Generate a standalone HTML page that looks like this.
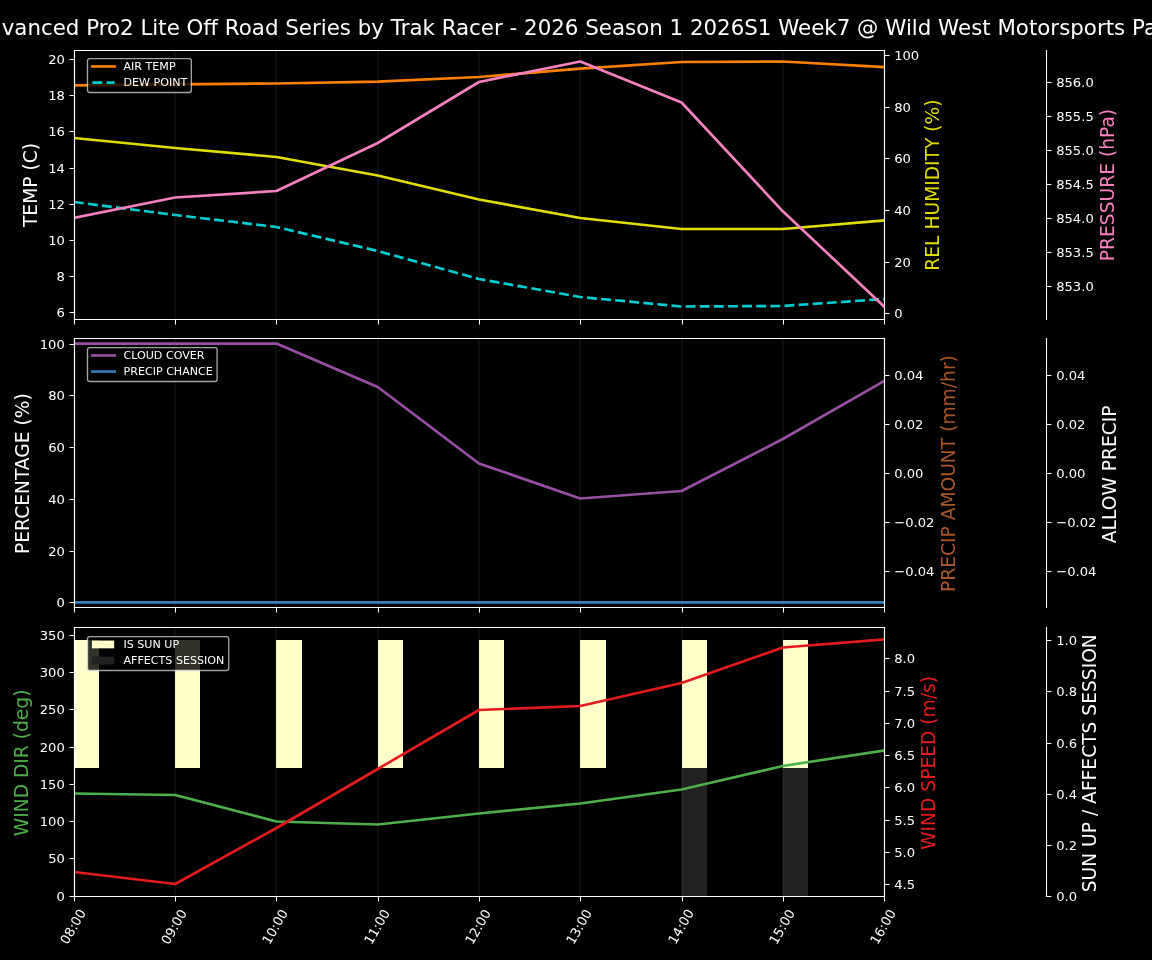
<!DOCTYPE html>
<html lang="en">
<head>
<meta charset="utf-8">
<title>Weather Forecast</title>
<style>
html,body{margin:0;padding:0;background:#000;}
body{width:1152px;height:960px;overflow:hidden;font-family:"DejaVu Sans","Liberation Sans",sans-serif;color:#fff;}
svg{display:block;}
</style>
</head>
<body>
<svg width="1152" height="960" viewBox="0 0 864 720">
<defs>
<style type="text/css">*{stroke-linejoin: round; stroke-linecap: butt}</style>
</defs>
<g id="figure_1">
<g id="patch_1">
<path d="M 0 720 L 864 720 L 864 0 L 0 0 z "/>
</g>
<g id="axes_1">
<g id="patch_2">
<path d="M 55.875 239.625 L 663.375 239.625 L 663.375 37.875 L 55.875 37.875 z "/>
</g>
<g id="matplotlib.axis_1">
<g id="xtick_1">
<g id="line2d_1">
<defs>
<path id="m2b34228c76" d="M 0 0 L 0 3.75 " style="stroke: #ffffff; stroke-width: 0.8"/>
</defs>
<g>
<use href="#m2b34228c76" x="55.875" y="239.625" style="fill: #ffffff; stroke: #ffffff; stroke-width: 0.8"/>
</g>
</g>
</g>
<g id="xtick_2">
<g id="line2d_2">
<g>
<use href="#m2b34228c76" x="131.625" y="239.625" style="fill: #ffffff; stroke: #ffffff; stroke-width: 0.8"/>
</g>
</g>
</g>
<g id="xtick_3">
<g id="line2d_3">
<g>
<use href="#m2b34228c76" x="207.375" y="239.625" style="fill: #ffffff; stroke: #ffffff; stroke-width: 0.8"/>
</g>
</g>
</g>
<g id="xtick_4">
<g id="line2d_4">
<g>
<use href="#m2b34228c76" x="283.875" y="239.625" style="fill: #ffffff; stroke: #ffffff; stroke-width: 0.8"/>
</g>
</g>
</g>
<g id="xtick_5">
<g id="line2d_5">
<g>
<use href="#m2b34228c76" x="359.625" y="239.625" style="fill: #ffffff; stroke: #ffffff; stroke-width: 0.8"/>
</g>
</g>
</g>
<g id="xtick_6">
<g id="line2d_6">
<g>
<use href="#m2b34228c76" x="435.375" y="239.625" style="fill: #ffffff; stroke: #ffffff; stroke-width: 0.8"/>
</g>
</g>
</g>
<g id="xtick_7">
<g id="line2d_7">
<g>
<use href="#m2b34228c76" x="511.875" y="239.625" style="fill: #ffffff; stroke: #ffffff; stroke-width: 0.8"/>
</g>
</g>
</g>
<g id="xtick_8">
<g id="line2d_8">
<g>
<use href="#m2b34228c76" x="587.625" y="239.625" style="fill: #ffffff; stroke: #ffffff; stroke-width: 0.8"/>
</g>
</g>
</g>
<g id="xtick_9">
<g id="line2d_9">
<g>
<use href="#m2b34228c76" x="663.375" y="239.625" style="fill: #ffffff; stroke: #ffffff; stroke-width: 0.8"/>
</g>
</g>
</g>
</g>
<g id="matplotlib.axis_2">
<g id="ytick_1">
<g id="line2d_10">
<defs>
<path id="mc63ed60ff4" d="M 0 0 L -3.75 0 " style="stroke: #ffffff; stroke-width: 0.8"/>
</defs>
<g>
<use href="#mc63ed60ff4" x="55.875" y="234.375" style="fill: #ffffff; stroke: #ffffff; stroke-width: 0.8"/>
</g>
</g>
<g id="text_1">
<text style="font-size: 9.85px; font-family: 'DejaVu Sans', 'Liberation Sans', sans-serif; text-anchor: end; fill: #ffffff" x="48.625" y="237.562">6</text>
</g>
</g>
<g id="ytick_2">
<g id="line2d_11">
<g>
<use href="#mc63ed60ff4" x="55.875" y="207.375" style="fill: #ffffff; stroke: #ffffff; stroke-width: 0.8"/>
</g>
</g>
<g id="text_2">
<text style="font-size: 9.85px; font-family: 'DejaVu Sans', 'Liberation Sans', sans-serif; text-anchor: end; fill: #ffffff" x="48.625" y="210.562">8</text>
</g>
</g>
<g id="ytick_3">
<g id="line2d_12">
<g>
<use href="#mc63ed60ff4" x="55.875" y="180.375" style="fill: #ffffff; stroke: #ffffff; stroke-width: 0.8"/>
</g>
</g>
<g id="text_3">
<text style="font-size: 9.85px; font-family: 'DejaVu Sans', 'Liberation Sans', sans-serif; text-anchor: end; fill: #ffffff" x="48.625" y="183.562">10</text>
</g>
</g>
<g id="ytick_4">
<g id="line2d_13">
<g>
<use href="#mc63ed60ff4" x="55.875" y="153.375" style="fill: #ffffff; stroke: #ffffff; stroke-width: 0.8"/>
</g>
</g>
<g id="text_4">
<text style="font-size: 9.85px; font-family: 'DejaVu Sans', 'Liberation Sans', sans-serif; text-anchor: end; fill: #ffffff" x="48.625" y="156.562">12</text>
</g>
</g>
<g id="ytick_5">
<g id="line2d_14">
<g>
<use href="#mc63ed60ff4" x="55.875" y="126.375" style="fill: #ffffff; stroke: #ffffff; stroke-width: 0.8"/>
</g>
</g>
<g id="text_5">
<text style="font-size: 9.85px; font-family: 'DejaVu Sans', 'Liberation Sans', sans-serif; text-anchor: end; fill: #ffffff" x="48.625" y="129.562">14</text>
</g>
</g>
<g id="ytick_6">
<g id="line2d_15">
<g>
<use href="#mc63ed60ff4" x="55.875" y="98.625" style="fill: #ffffff; stroke: #ffffff; stroke-width: 0.8"/>
</g>
</g>
<g id="text_6">
<text style="font-size: 9.85px; font-family: 'DejaVu Sans', 'Liberation Sans', sans-serif; text-anchor: end; fill: #ffffff" x="48.625" y="101.812">16</text>
</g>
</g>
<g id="ytick_7">
<g id="line2d_16">
<g>
<use href="#mc63ed60ff4" x="55.875" y="71.625" style="fill: #ffffff; stroke: #ffffff; stroke-width: 0.8"/>
</g>
</g>
<g id="text_7">
<text style="font-size: 9.85px; font-family: 'DejaVu Sans', 'Liberation Sans', sans-serif; text-anchor: end; fill: #ffffff" x="48.625" y="74.812">18</text>
</g>
</g>
<g id="ytick_8">
<g id="line2d_17">
<g>
<use href="#mc63ed60ff4" x="55.875" y="44.625" style="fill: #ffffff; stroke: #ffffff; stroke-width: 0.8"/>
</g>
</g>
<g id="text_8">
<text style="font-size: 9.85px; font-family: 'DejaVu Sans', 'Liberation Sans', sans-serif; text-anchor: end; fill: #ffffff" x="48.625" y="47.812">20</text>
</g>
</g>
<g id="text_9">
<text style="font-size: 14px; font-family: 'DejaVu Sans', 'Liberation Sans', sans-serif; text-anchor: middle; fill: #ffffff" x="28.106" y="138.75" transform="rotate(-90 28.106 138.75)">TEMP (C)</text>
</g>
</g>
<g id="line2d_18">
<path d="M 55.425 63.975 L 131.381 63.3 L 207.337 62.625 L 283.293 61.275 L 359.25 57.75 L 435.206 51.45 L 511.162 46.5 L 587.118 46.125 L 663.075 50.25 " clip-path="url(#pbbd23e26a2)" style="fill: none; stroke: #ff7f00; stroke-width: 2; stroke-linecap: square"/>
</g>
<g id="line2d_19">
<path d="M 55.425 151.5 L 131.381 161.25 L 207.337 170.25 L 283.293 188.25 L 359.25 209.25 L 435.206 222.75 L 511.162 229.875 L 587.118 229.5 L 663.075 224.25 " clip-path="url(#pbbd23e26a2)" style="fill: none; stroke-dasharray: 7.4,3.2; stroke-dashoffset: 0; stroke: #00ced1; stroke-width: 2"/>
</g>
<g id="line2d_20">
<path d="M 55.5 239.625 L 55.5 37.875 " clip-path="url(#pbbd23e26a2)" style="fill: none; stroke: #808080; stroke-opacity: 0.1; stroke-width: 1.5; stroke-linecap: square"/>
</g>
<g id="line2d_21">
<path d="M 131.25 239.625 L 131.25 37.875 " clip-path="url(#pbbd23e26a2)" style="fill: none; stroke: #808080; stroke-opacity: 0.1; stroke-width: 1.5; stroke-linecap: square"/>
</g>
<g id="line2d_22">
<path d="M 207 239.625 L 207 37.875 " clip-path="url(#pbbd23e26a2)" style="fill: none; stroke: #808080; stroke-opacity: 0.1; stroke-width: 1.5; stroke-linecap: square"/>
</g>
<g id="line2d_23">
<path d="M 283.5 239.625 L 283.5 37.875 " clip-path="url(#pbbd23e26a2)" style="fill: none; stroke: #808080; stroke-opacity: 0.1; stroke-width: 1.5; stroke-linecap: square"/>
</g>
<g id="line2d_24">
<path d="M 359.25 239.625 L 359.25 37.875 " clip-path="url(#pbbd23e26a2)" style="fill: none; stroke: #808080; stroke-opacity: 0.1; stroke-width: 1.5; stroke-linecap: square"/>
</g>
<g id="line2d_25">
<path d="M 435 239.625 L 435 37.875 " clip-path="url(#pbbd23e26a2)" style="fill: none; stroke: #808080; stroke-opacity: 0.1; stroke-width: 1.5; stroke-linecap: square"/>
</g>
<g id="line2d_26">
<path d="M 511.5 239.625 L 511.5 37.875 " clip-path="url(#pbbd23e26a2)" style="fill: none; stroke: #808080; stroke-opacity: 0.1; stroke-width: 1.5; stroke-linecap: square"/>
</g>
<g id="line2d_27">
<path d="M 587.25 239.625 L 587.25 37.875 " clip-path="url(#pbbd23e26a2)" style="fill: none; stroke: #808080; stroke-opacity: 0.1; stroke-width: 1.5; stroke-linecap: square"/>
</g>
<g id="line2d_28">
<path d="M 663 239.625 L 663 37.875 " clip-path="url(#pbbd23e26a2)" style="fill: none; stroke: #808080; stroke-opacity: 0.1; stroke-width: 1.5; stroke-linecap: square"/>
</g>
<g id="patch_3">
<path d="M 55.875 239.625 L 55.875 37.875 " style="fill: none; stroke: #ffffff; stroke-width: 0.8; stroke-linejoin: miter; stroke-linecap: square"/>
</g>
<g id="patch_4">
<path d="M 663.375 239.625 L 663.375 37.875 " style="fill: none; stroke: #ffffff; stroke-width: 0.8; stroke-linejoin: miter; stroke-linecap: square"/>
</g>
<g id="patch_5">
<path d="M 55.875 239.625 L 663.375 239.625 " style="fill: none; stroke: #ffffff; stroke-width: 0.8; stroke-linejoin: miter; stroke-linecap: square"/>
</g>
<g id="patch_6">
<path d="M 55.875 37.875 L 663.375 37.875 " style="fill: none; stroke: #ffffff; stroke-width: 0.8; stroke-linejoin: miter; stroke-linecap: square"/>
</g>
</g>
<g id="axes_2">
<g id="matplotlib.axis_3">
<g id="ytick_9">
<g id="line2d_29">
<defs>
<path id="m5f12abc938" d="M 0 0 L 3.75 0 " style="stroke: #ffffff; stroke-width: 0.8"/>
</defs>
<g>
<use href="#m5f12abc938" x="663.375" y="235.125" style="fill: #ffffff; stroke: #ffffff; stroke-width: 0.8"/>
</g>
</g>
<g id="text_10">
<text style="font-size: 9.85px; font-family: 'DejaVu Sans', 'Liberation Sans', sans-serif; text-anchor: start; fill: #ffffff" x="670.625" y="238.312">0</text>
</g>
</g>
<g id="ytick_10">
<g id="line2d_30">
<g>
<use href="#m5f12abc938" x="663.375" y="196.875" style="fill: #ffffff; stroke: #ffffff; stroke-width: 0.8"/>
</g>
</g>
<g id="text_11">
<text style="font-size: 9.85px; font-family: 'DejaVu Sans', 'Liberation Sans', sans-serif; text-anchor: start; fill: #ffffff" x="670.625" y="200.062">20</text>
</g>
</g>
<g id="ytick_11">
<g id="line2d_31">
<g>
<use href="#m5f12abc938" x="663.375" y="157.875" style="fill: #ffffff; stroke: #ffffff; stroke-width: 0.8"/>
</g>
</g>
<g id="text_12">
<text style="font-size: 9.85px; font-family: 'DejaVu Sans', 'Liberation Sans', sans-serif; text-anchor: start; fill: #ffffff" x="670.625" y="161.062">40</text>
</g>
</g>
<g id="ytick_12">
<g id="line2d_32">
<g>
<use href="#m5f12abc938" x="663.375" y="118.875" style="fill: #ffffff; stroke: #ffffff; stroke-width: 0.8"/>
</g>
</g>
<g id="text_13">
<text style="font-size: 9.85px; font-family: 'DejaVu Sans', 'Liberation Sans', sans-serif; text-anchor: start; fill: #ffffff" x="670.625" y="122.062">60</text>
</g>
</g>
<g id="ytick_13">
<g id="line2d_33">
<g>
<use href="#m5f12abc938" x="663.375" y="80.625" style="fill: #ffffff; stroke: #ffffff; stroke-width: 0.8"/>
</g>
</g>
<g id="text_14">
<text style="font-size: 9.85px; font-family: 'DejaVu Sans', 'Liberation Sans', sans-serif; text-anchor: start; fill: #ffffff" x="670.625" y="83.812">80</text>
</g>
</g>
<g id="ytick_14">
<g id="line2d_34">
<g>
<use href="#m5f12abc938" x="663.375" y="41.625" style="fill: #ffffff; stroke: #ffffff; stroke-width: 0.8"/>
</g>
</g>
<g id="text_15">
<text style="font-size: 9.85px; font-family: 'DejaVu Sans', 'Liberation Sans', sans-serif; text-anchor: start; fill: #ffffff" x="670.625" y="44.812">100</text>
</g>
</g>
<g id="text_16">
<text style="font-size: 14px; font-family: 'DejaVu Sans', 'Liberation Sans', sans-serif; text-anchor: middle; fill: #dede00" x="704.325" y="138.75" transform="rotate(-90 704.325 138.75)">REL HUMIDITY (%)</text>
</g>
</g>
<g id="line2d_35">
<path d="M 55.425 103.5 L 131.381 111 L 207.337 117.75 L 283.293 131.625 L 359.25 149.625 L 435.206 163.5 L 511.162 171.75 L 587.118 171.75 L 663.075 165.375 " clip-path="url(#p2cc033f85c)" style="fill: none; stroke: #dede00; stroke-width: 2; stroke-linecap: square"/>
</g>
<g id="patch_7">
<path d="M 55.875 239.625 L 55.875 37.875 " style="fill: none; stroke: #ffffff; stroke-width: 0.8; stroke-linejoin: miter; stroke-linecap: square"/>
</g>
<g id="patch_8">
<path d="M 663.375 239.625 L 663.375 37.875 " style="fill: none; stroke: #ffffff; stroke-width: 0.8; stroke-linejoin: miter; stroke-linecap: square"/>
</g>
<g id="patch_9">
<path d="M 55.875 239.625 L 663.375 239.625 " style="fill: none; stroke: #ffffff; stroke-width: 0.8; stroke-linejoin: miter; stroke-linecap: square"/>
</g>
<g id="patch_10">
<path d="M 55.875 37.875 L 663.375 37.875 " style="fill: none; stroke: #ffffff; stroke-width: 0.8; stroke-linejoin: miter; stroke-linecap: square"/>
</g>
</g>
<g id="axes_3">
<g id="matplotlib.axis_4">
<g id="ytick_15">
<g id="line2d_36">
<g>
<use href="#m5f12abc938" x="784.875" y="214.875" style="fill: #ffffff; stroke: #ffffff; stroke-width: 0.8"/>
</g>
</g>
<g id="text_17">
<text style="font-size: 9.85px; font-family: 'DejaVu Sans', 'Liberation Sans', sans-serif; text-anchor: start; fill: #ffffff" x="792.125" y="218.062">853.0</text>
</g>
</g>
<g id="ytick_16">
<g id="line2d_37">
<g>
<use href="#m5f12abc938" x="784.875" y="189.375" style="fill: #ffffff; stroke: #ffffff; stroke-width: 0.8"/>
</g>
</g>
<g id="text_18">
<text style="font-size: 9.85px; font-family: 'DejaVu Sans', 'Liberation Sans', sans-serif; text-anchor: start; fill: #ffffff" x="792.125" y="192.562">853.5</text>
</g>
</g>
<g id="ytick_17">
<g id="line2d_38">
<g>
<use href="#m5f12abc938" x="784.875" y="163.875" style="fill: #ffffff; stroke: #ffffff; stroke-width: 0.8"/>
</g>
</g>
<g id="text_19">
<text style="font-size: 9.85px; font-family: 'DejaVu Sans', 'Liberation Sans', sans-serif; text-anchor: start; fill: #ffffff" x="792.125" y="167.062">854.0</text>
</g>
</g>
<g id="ytick_18">
<g id="line2d_39">
<g>
<use href="#m5f12abc938" x="784.875" y="138.375" style="fill: #ffffff; stroke: #ffffff; stroke-width: 0.8"/>
</g>
</g>
<g id="text_20">
<text style="font-size: 9.85px; font-family: 'DejaVu Sans', 'Liberation Sans', sans-serif; text-anchor: start; fill: #ffffff" x="792.125" y="141.562">854.5</text>
</g>
</g>
<g id="ytick_19">
<g id="line2d_40">
<g>
<use href="#m5f12abc938" x="784.875" y="112.875" style="fill: #ffffff; stroke: #ffffff; stroke-width: 0.8"/>
</g>
</g>
<g id="text_21">
<text style="font-size: 9.85px; font-family: 'DejaVu Sans', 'Liberation Sans', sans-serif; text-anchor: start; fill: #ffffff" x="792.125" y="116.062">855.0</text>
</g>
</g>
<g id="ytick_20">
<g id="line2d_41">
<g>
<use href="#m5f12abc938" x="784.875" y="87.375" style="fill: #ffffff; stroke: #ffffff; stroke-width: 0.8"/>
</g>
</g>
<g id="text_22">
<text style="font-size: 9.85px; font-family: 'DejaVu Sans', 'Liberation Sans', sans-serif; text-anchor: start; fill: #ffffff" x="792.125" y="90.562">855.5</text>
</g>
</g>
<g id="ytick_21">
<g id="line2d_42">
<g>
<use href="#m5f12abc938" x="784.875" y="61.875" style="fill: #ffffff; stroke: #ffffff; stroke-width: 0.8"/>
</g>
</g>
<g id="text_23">
<text style="font-size: 9.85px; font-family: 'DejaVu Sans', 'Liberation Sans', sans-serif; text-anchor: start; fill: #ffffff" x="792.125" y="65.062">856.0</text>
</g>
</g>
<g id="text_24">
<text style="font-size: 14px; font-family: 'DejaVu Sans', 'Liberation Sans', sans-serif; text-anchor: middle; fill: #f781bf" x="835.293" y="138.75" transform="rotate(-90 835.293 138.75)">PRESSURE (hPa)</text>
</g>
</g>
<g id="line2d_43">
<path d="M 55.425 163.5 L 131.381 148.125 L 207.337 143.25 L 283.293 107.25 L 359.25 61.5 L 435.206 46.125 L 511.162 76.875 L 587.118 158.475 L 663.075 229.875 " clip-path="url(#p2cc033f85c)" style="fill: none; stroke: #f781bf; stroke-width: 2; stroke-linecap: square"/>
</g>
<g id="patch_11">
<path d="M 55.875 239.625 L 55.875 37.875 " style="fill: none; stroke: #ffffff; stroke-width: 0.8; stroke-linejoin: miter; stroke-linecap: square"/>
</g>
<g id="patch_12">
<path d="M 784.875 239.625 L 784.875 37.875 " style="fill: none; stroke: #ffffff; stroke-width: 0.8; stroke-linejoin: miter; stroke-linecap: square"/>
</g>
<g id="patch_13">
<path d="M 55.875 239.625 L 663.375 239.625 " style="fill: none; stroke: #ffffff; stroke-width: 0.8; stroke-linejoin: miter; stroke-linecap: square"/>
</g>
<g id="patch_14">
<path d="M 55.875 37.875 L 663.375 37.875 " style="fill: none; stroke: #ffffff; stroke-width: 0.8; stroke-linejoin: miter; stroke-linecap: square"/>
</g>
</g>
<g id="axes_4">
<g id="patch_15">
<path d="M 55.875 455.625 L 663.375 455.625 L 663.375 253.875 L 55.875 253.875 z "/>
</g>
<g id="matplotlib.axis_5">
<g id="xtick_10">
<g id="line2d_44">
<g>
<use href="#m2b34228c76" x="55.875" y="455.625" style="fill: #ffffff; stroke: #ffffff; stroke-width: 0.8"/>
</g>
</g>
</g>
<g id="xtick_11">
<g id="line2d_45">
<g>
<use href="#m2b34228c76" x="131.625" y="455.625" style="fill: #ffffff; stroke: #ffffff; stroke-width: 0.8"/>
</g>
</g>
</g>
<g id="xtick_12">
<g id="line2d_46">
<g>
<use href="#m2b34228c76" x="207.375" y="455.625" style="fill: #ffffff; stroke: #ffffff; stroke-width: 0.8"/>
</g>
</g>
</g>
<g id="xtick_13">
<g id="line2d_47">
<g>
<use href="#m2b34228c76" x="283.875" y="455.625" style="fill: #ffffff; stroke: #ffffff; stroke-width: 0.8"/>
</g>
</g>
</g>
<g id="xtick_14">
<g id="line2d_48">
<g>
<use href="#m2b34228c76" x="359.625" y="455.625" style="fill: #ffffff; stroke: #ffffff; stroke-width: 0.8"/>
</g>
</g>
</g>
<g id="xtick_15">
<g id="line2d_49">
<g>
<use href="#m2b34228c76" x="435.375" y="455.625" style="fill: #ffffff; stroke: #ffffff; stroke-width: 0.8"/>
</g>
</g>
</g>
<g id="xtick_16">
<g id="line2d_50">
<g>
<use href="#m2b34228c76" x="511.875" y="455.625" style="fill: #ffffff; stroke: #ffffff; stroke-width: 0.8"/>
</g>
</g>
</g>
<g id="xtick_17">
<g id="line2d_51">
<g>
<use href="#m2b34228c76" x="587.625" y="455.625" style="fill: #ffffff; stroke: #ffffff; stroke-width: 0.8"/>
</g>
</g>
</g>
<g id="xtick_18">
<g id="line2d_52">
<g>
<use href="#m2b34228c76" x="663.375" y="455.625" style="fill: #ffffff; stroke: #ffffff; stroke-width: 0.8"/>
</g>
</g>
</g>
</g>
<g id="matplotlib.axis_6">
<g id="ytick_22">
<g id="line2d_53">
<g>
<use href="#mc63ed60ff4" x="55.875" y="451.875" style="fill: #ffffff; stroke: #ffffff; stroke-width: 0.8"/>
</g>
</g>
<g id="text_25">
<text style="font-size: 9.85px; font-family: 'DejaVu Sans', 'Liberation Sans', sans-serif; text-anchor: end; fill: #ffffff" x="48.625" y="455.062">0</text>
</g>
</g>
<g id="ytick_23">
<g id="line2d_54">
<g>
<use href="#mc63ed60ff4" x="55.875" y="413.625" style="fill: #ffffff; stroke: #ffffff; stroke-width: 0.8"/>
</g>
</g>
<g id="text_26">
<text style="font-size: 9.85px; font-family: 'DejaVu Sans', 'Liberation Sans', sans-serif; text-anchor: end; fill: #ffffff" x="48.625" y="416.812">20</text>
</g>
</g>
<g id="ytick_24">
<g id="line2d_55">
<g>
<use href="#mc63ed60ff4" x="55.875" y="374.625" style="fill: #ffffff; stroke: #ffffff; stroke-width: 0.8"/>
</g>
</g>
<g id="text_27">
<text style="font-size: 9.85px; font-family: 'DejaVu Sans', 'Liberation Sans', sans-serif; text-anchor: end; fill: #ffffff" x="48.625" y="377.812">40</text>
</g>
</g>
<g id="ytick_25">
<g id="line2d_56">
<g>
<use href="#mc63ed60ff4" x="55.875" y="335.625" style="fill: #ffffff; stroke: #ffffff; stroke-width: 0.8"/>
</g>
</g>
<g id="text_28">
<text style="font-size: 9.85px; font-family: 'DejaVu Sans', 'Liberation Sans', sans-serif; text-anchor: end; fill: #ffffff" x="48.625" y="338.812">60</text>
</g>
</g>
<g id="ytick_26">
<g id="line2d_57">
<g>
<use href="#mc63ed60ff4" x="55.875" y="296.625" style="fill: #ffffff; stroke: #ffffff; stroke-width: 0.8"/>
</g>
</g>
<g id="text_29">
<text style="font-size: 9.85px; font-family: 'DejaVu Sans', 'Liberation Sans', sans-serif; text-anchor: end; fill: #ffffff" x="48.625" y="299.812">80</text>
</g>
</g>
<g id="ytick_27">
<g id="line2d_58">
<g>
<use href="#mc63ed60ff4" x="55.875" y="258.375" style="fill: #ffffff; stroke: #ffffff; stroke-width: 0.8"/>
</g>
</g>
<g id="text_30">
<text style="font-size: 9.85px; font-family: 'DejaVu Sans', 'Liberation Sans', sans-serif; text-anchor: end; fill: #ffffff" x="48.625" y="261.562">100</text>
</g>
</g>
<g id="text_31">
<text style="font-size: 14px; font-family: 'DejaVu Sans', 'Liberation Sans', sans-serif; text-anchor: middle; fill: #ffffff" x="21.825" y="355.2" transform="rotate(-90 21.825 355.2)">PERCENTAGE (%)</text>
</g>
</g>
<g id="line2d_59">
<path d="M 55.425 257.7 L 131.381 257.7 L 207.337 257.7 L 283.293 290.25 L 359.25 347.625 L 435.206 373.875 L 511.162 368.25 L 587.118 329.25 L 663.075 285.75 " clip-path="url(#paed9b21884)" style="fill: none; stroke: #984ea3; stroke-width: 2; stroke-linecap: square"/>
</g>
<g id="line2d_60">
<path d="M 55.425 451.837 L 131.381 451.837 L 207.337 451.837 L 283.293 451.837 L 359.25 451.837 L 435.206 451.837 L 511.162 451.837 L 587.118 451.837 L 663.075 451.837 " clip-path="url(#paed9b21884)" style="fill: none; stroke: #377eb8; stroke-width: 2; stroke-linecap: square"/>
</g>
<g id="line2d_61">
<path d="M 55.5 455.625 L 55.5 253.875 " clip-path="url(#paed9b21884)" style="fill: none; stroke: #808080; stroke-opacity: 0.1; stroke-width: 1.5; stroke-linecap: square"/>
</g>
<g id="line2d_62">
<path d="M 131.25 455.625 L 131.25 253.875 " clip-path="url(#paed9b21884)" style="fill: none; stroke: #808080; stroke-opacity: 0.1; stroke-width: 1.5; stroke-linecap: square"/>
</g>
<g id="line2d_63">
<path d="M 207 455.625 L 207 253.875 " clip-path="url(#paed9b21884)" style="fill: none; stroke: #808080; stroke-opacity: 0.1; stroke-width: 1.5; stroke-linecap: square"/>
</g>
<g id="line2d_64">
<path d="M 283.5 455.625 L 283.5 253.875 " clip-path="url(#paed9b21884)" style="fill: none; stroke: #808080; stroke-opacity: 0.1; stroke-width: 1.5; stroke-linecap: square"/>
</g>
<g id="line2d_65">
<path d="M 359.25 455.625 L 359.25 253.875 " clip-path="url(#paed9b21884)" style="fill: none; stroke: #808080; stroke-opacity: 0.1; stroke-width: 1.5; stroke-linecap: square"/>
</g>
<g id="line2d_66">
<path d="M 435 455.625 L 435 253.875 " clip-path="url(#paed9b21884)" style="fill: none; stroke: #808080; stroke-opacity: 0.1; stroke-width: 1.5; stroke-linecap: square"/>
</g>
<g id="line2d_67">
<path d="M 511.5 455.625 L 511.5 253.875 " clip-path="url(#paed9b21884)" style="fill: none; stroke: #808080; stroke-opacity: 0.1; stroke-width: 1.5; stroke-linecap: square"/>
</g>
<g id="line2d_68">
<path d="M 587.25 455.625 L 587.25 253.875 " clip-path="url(#paed9b21884)" style="fill: none; stroke: #808080; stroke-opacity: 0.1; stroke-width: 1.5; stroke-linecap: square"/>
</g>
<g id="line2d_69">
<path d="M 663 455.625 L 663 253.875 " clip-path="url(#paed9b21884)" style="fill: none; stroke: #808080; stroke-opacity: 0.1; stroke-width: 1.5; stroke-linecap: square"/>
</g>
<g id="patch_16">
<path d="M 55.875 455.625 L 55.875 253.875 " style="fill: none; stroke: #ffffff; stroke-width: 0.8; stroke-linejoin: miter; stroke-linecap: square"/>
</g>
<g id="patch_17">
<path d="M 663.375 455.625 L 663.375 253.875 " style="fill: none; stroke: #ffffff; stroke-width: 0.8; stroke-linejoin: miter; stroke-linecap: square"/>
</g>
<g id="patch_18">
<path d="M 55.875 455.625 L 663.375 455.625 " style="fill: none; stroke: #ffffff; stroke-width: 0.8; stroke-linejoin: miter; stroke-linecap: square"/>
</g>
<g id="patch_19">
<path d="M 55.875 253.875 L 663.375 253.875 " style="fill: none; stroke: #ffffff; stroke-width: 0.8; stroke-linejoin: miter; stroke-linecap: square"/>
</g>
</g>
<g id="axes_5">
<g id="matplotlib.axis_7">
<g id="ytick_28">
<g id="line2d_70">
<g>
<use href="#m5f12abc938" x="663.375" y="428.625" style="fill: #ffffff; stroke: #ffffff; stroke-width: 0.8"/>
</g>
</g>
<g id="text_32">
<text style="font-size: 9.85px; font-family: 'DejaVu Sans', 'Liberation Sans', sans-serif; text-anchor: start; fill: #ffffff" x="670.625" y="431.812">−0.04</text>
</g>
</g>
<g id="ytick_29">
<g id="line2d_71">
<g>
<use href="#m5f12abc938" x="663.375" y="391.875" style="fill: #ffffff; stroke: #ffffff; stroke-width: 0.8"/>
</g>
</g>
<g id="text_33">
<text style="font-size: 9.85px; font-family: 'DejaVu Sans', 'Liberation Sans', sans-serif; text-anchor: start; fill: #ffffff" x="670.625" y="395.062">−0.02</text>
</g>
</g>
<g id="ytick_30">
<g id="line2d_72">
<g>
<use href="#m5f12abc938" x="663.375" y="355.125" style="fill: #ffffff; stroke: #ffffff; stroke-width: 0.8"/>
</g>
</g>
<g id="text_34">
<text style="font-size: 9.85px; font-family: 'DejaVu Sans', 'Liberation Sans', sans-serif; text-anchor: start; fill: #ffffff" x="670.625" y="358.312">0.00</text>
</g>
</g>
<g id="ytick_31">
<g id="line2d_73">
<g>
<use href="#m5f12abc938" x="663.375" y="318.375" style="fill: #ffffff; stroke: #ffffff; stroke-width: 0.8"/>
</g>
</g>
<g id="text_35">
<text style="font-size: 9.85px; font-family: 'DejaVu Sans', 'Liberation Sans', sans-serif; text-anchor: start; fill: #ffffff" x="670.625" y="321.562">0.02</text>
</g>
</g>
<g id="ytick_32">
<g id="line2d_74">
<g>
<use href="#m5f12abc938" x="663.375" y="281.625" style="fill: #ffffff; stroke: #ffffff; stroke-width: 0.8"/>
</g>
</g>
<g id="text_36">
<text style="font-size: 9.85px; font-family: 'DejaVu Sans', 'Liberation Sans', sans-serif; text-anchor: start; fill: #ffffff" x="670.625" y="284.812">0.04</text>
</g>
</g>
<g id="text_37">
<text style="font-size: 14px; font-family: 'DejaVu Sans', 'Liberation Sans', sans-serif; text-anchor: middle; fill: #a65628" x="716.043" y="355.2" transform="rotate(-90 716.043 355.2)">PRECIP AMOUNT (mm/hr)</text>
</g>
</g>
<g id="patch_20">
<path d="M 55.875 455.625 L 55.875 253.875 " style="fill: none; stroke: #ffffff; stroke-width: 0.8; stroke-linejoin: miter; stroke-linecap: square"/>
</g>
<g id="patch_21">
<path d="M 663.375 455.625 L 663.375 253.875 " style="fill: none; stroke: #ffffff; stroke-width: 0.8; stroke-linejoin: miter; stroke-linecap: square"/>
</g>
<g id="patch_22">
<path d="M 55.875 455.625 L 663.375 455.625 " style="fill: none; stroke: #ffffff; stroke-width: 0.8; stroke-linejoin: miter; stroke-linecap: square"/>
</g>
<g id="patch_23">
<path d="M 55.875 253.875 L 663.375 253.875 " style="fill: none; stroke: #ffffff; stroke-width: 0.8; stroke-linejoin: miter; stroke-linecap: square"/>
</g>
</g>
<g id="axes_6">
<g id="matplotlib.axis_8">
<g id="ytick_33">
<g id="line2d_75">
<g>
<use href="#m5f12abc938" x="784.875" y="428.625" style="fill: #ffffff; stroke: #ffffff; stroke-width: 0.8"/>
</g>
</g>
<g id="text_38">
<text style="font-size: 9.85px; font-family: 'DejaVu Sans', 'Liberation Sans', sans-serif; text-anchor: start; fill: #ffffff" x="792.125" y="431.812">−0.04</text>
</g>
</g>
<g id="ytick_34">
<g id="line2d_76">
<g>
<use href="#m5f12abc938" x="784.875" y="391.875" style="fill: #ffffff; stroke: #ffffff; stroke-width: 0.8"/>
</g>
</g>
<g id="text_39">
<text style="font-size: 9.85px; font-family: 'DejaVu Sans', 'Liberation Sans', sans-serif; text-anchor: start; fill: #ffffff" x="792.125" y="395.062">−0.02</text>
</g>
</g>
<g id="ytick_35">
<g id="line2d_77">
<g>
<use href="#m5f12abc938" x="784.875" y="355.125" style="fill: #ffffff; stroke: #ffffff; stroke-width: 0.8"/>
</g>
</g>
<g id="text_40">
<text style="font-size: 9.85px; font-family: 'DejaVu Sans', 'Liberation Sans', sans-serif; text-anchor: start; fill: #ffffff" x="792.125" y="358.312">0.00</text>
</g>
</g>
<g id="ytick_36">
<g id="line2d_78">
<g>
<use href="#m5f12abc938" x="784.875" y="318.375" style="fill: #ffffff; stroke: #ffffff; stroke-width: 0.8"/>
</g>
</g>
<g id="text_41">
<text style="font-size: 9.85px; font-family: 'DejaVu Sans', 'Liberation Sans', sans-serif; text-anchor: start; fill: #ffffff" x="792.125" y="321.562">0.02</text>
</g>
</g>
<g id="ytick_37">
<g id="line2d_79">
<g>
<use href="#m5f12abc938" x="784.875" y="281.625" style="fill: #ffffff; stroke: #ffffff; stroke-width: 0.8"/>
</g>
</g>
<g id="text_42">
<text style="font-size: 9.85px; font-family: 'DejaVu Sans', 'Liberation Sans', sans-serif; text-anchor: start; fill: #ffffff" x="792.125" y="284.812">0.04</text>
</g>
</g>
<g id="text_43">
<text style="font-size: 14px; font-family: 'DejaVu Sans', 'Liberation Sans', sans-serif; text-anchor: middle; fill: #ffffff" x="836.718" y="355.725" transform="rotate(-90 836.718 355.725)">ALLOW PRECIP</text>
</g>
</g>
<g id="patch_24">
<path d="M 55.875 455.625 L 55.875 253.875 " style="fill: none; stroke: #ffffff; stroke-width: 0.8; stroke-linejoin: miter; stroke-linecap: square"/>
</g>
<g id="patch_25">
<path d="M 784.875 455.625 L 784.875 253.875 " style="fill: none; stroke: #ffffff; stroke-width: 0.8; stroke-linejoin: miter; stroke-linecap: square"/>
</g>
<g id="patch_26">
<path d="M 55.875 455.625 L 663.375 455.625 " style="fill: none; stroke: #ffffff; stroke-width: 0.8; stroke-linejoin: miter; stroke-linecap: square"/>
</g>
<g id="patch_27">
<path d="M 55.875 253.875 L 663.375 253.875 " style="fill: none; stroke: #ffffff; stroke-width: 0.8; stroke-linejoin: miter; stroke-linecap: square"/>
</g>
</g>
<g id="axes_7">
<g id="patch_28">
<path d="M 55.5 576 L 74.25 576 L 74.25 480 L 55.5 480 z " clip-path="url(#pfb2f7421c6)" style="fill: #ffffcc"/>
</g>
<g id="patch_29">
<path d="M 131.25 576 L 150 576 L 150 480 L 131.25 480 z " clip-path="url(#pfb2f7421c6)" style="fill: #ffffcc"/>
</g>
<g id="patch_30">
<path d="M 207 576 L 226.5 576 L 226.5 480 L 207 480 z " clip-path="url(#pfb2f7421c6)" style="fill: #ffffcc"/>
</g>
<g id="patch_31">
<path d="M 283.5 576 L 302.25 576 L 302.25 480 L 283.5 480 z " clip-path="url(#pfb2f7421c6)" style="fill: #ffffcc"/>
</g>
<g id="patch_32">
<path d="M 359.25 576 L 378 576 L 378 480 L 359.25 480 z " clip-path="url(#pfb2f7421c6)" style="fill: #ffffcc"/>
</g>
<g id="patch_33">
<path d="M 435 576 L 454.5 576 L 454.5 480 L 435 480 z " clip-path="url(#pfb2f7421c6)" style="fill: #ffffcc"/>
</g>
<g id="patch_34">
<path d="M 511.5 576 L 530.25 576 L 530.25 480 L 511.5 480 z " clip-path="url(#pfb2f7421c6)" style="fill: #ffffcc"/>
</g>
<g id="patch_35">
<path d="M 587.25 576 L 606 576 L 606 480 L 587.25 480 z " clip-path="url(#pfb2f7421c6)" style="fill: #ffffcc"/>
</g>
<g id="patch_36">
<path d="M 663 576 L 681.75 576 L 681.75 480 L 663 480 z " clip-path="url(#pfb2f7421c6)" style="fill: #ffffcc"/>
</g>
<g id="patch_37">
<path d="M 511.5 672 L 530.25 672 L 530.25 576 L 511.5 576 z " clip-path="url(#pfb2f7421c6)" style="fill: #222222"/>
</g>
<g id="patch_38">
<path d="M 587.25 672 L 606 672 L 606 576 L 587.25 576 z " clip-path="url(#pfb2f7421c6)" style="fill: #222222"/>
</g>
<g id="matplotlib.axis_9">
<g id="ytick_38">
<g id="line2d_80">
<g>
<use href="#m5f12abc938" x="784.875" y="672.375" style="fill: #ffffff; stroke: #ffffff; stroke-width: 0.8"/>
</g>
</g>
<g id="text_44">
<text style="font-size: 9.85px; font-family: 'DejaVu Sans', 'Liberation Sans', sans-serif; text-anchor: start; fill: #ffffff" x="792.125" y="675.562">0.0</text>
</g>
</g>
<g id="ytick_39">
<g id="line2d_81">
<g>
<use href="#m5f12abc938" x="784.875" y="634.125" style="fill: #ffffff; stroke: #ffffff; stroke-width: 0.8"/>
</g>
</g>
<g id="text_45">
<text style="font-size: 9.85px; font-family: 'DejaVu Sans', 'Liberation Sans', sans-serif; text-anchor: start; fill: #ffffff" x="792.125" y="637.312">0.2</text>
</g>
</g>
<g id="ytick_40">
<g id="line2d_82">
<g>
<use href="#m5f12abc938" x="784.875" y="595.875" style="fill: #ffffff; stroke: #ffffff; stroke-width: 0.8"/>
</g>
</g>
<g id="text_46">
<text style="font-size: 9.85px; font-family: 'DejaVu Sans', 'Liberation Sans', sans-serif; text-anchor: start; fill: #ffffff" x="792.125" y="599.062">0.4</text>
</g>
</g>
<g id="ytick_41">
<g id="line2d_83">
<g>
<use href="#m5f12abc938" x="784.875" y="557.625" style="fill: #ffffff; stroke: #ffffff; stroke-width: 0.8"/>
</g>
</g>
<g id="text_47">
<text style="font-size: 9.85px; font-family: 'DejaVu Sans', 'Liberation Sans', sans-serif; text-anchor: start; fill: #ffffff" x="792.125" y="560.812">0.6</text>
</g>
</g>
<g id="ytick_42">
<g id="line2d_84">
<g>
<use href="#m5f12abc938" x="784.875" y="518.625" style="fill: #ffffff; stroke: #ffffff; stroke-width: 0.8"/>
</g>
</g>
<g id="text_48">
<text style="font-size: 9.85px; font-family: 'DejaVu Sans', 'Liberation Sans', sans-serif; text-anchor: start; fill: #ffffff" x="792.125" y="521.812">0.8</text>
</g>
</g>
<g id="ytick_43">
<g id="line2d_85">
<g>
<use href="#m5f12abc938" x="784.875" y="480.375" style="fill: #ffffff; stroke: #ffffff; stroke-width: 0.8"/>
</g>
</g>
<g id="text_49">
<text style="font-size: 9.85px; font-family: 'DejaVu Sans', 'Liberation Sans', sans-serif; text-anchor: start; fill: #ffffff" x="792.125" y="483.562">1.0</text>
</g>
</g>
<g id="text_50">
<text style="font-size: 14px; font-family: 'DejaVu Sans', 'Liberation Sans', sans-serif; text-anchor: middle; fill: #ffffff" x="821.906" y="572.437" transform="rotate(-90 821.906 572.437)">SUN UP / AFFECTS SESSION</text>
</g>
</g>
<g id="patch_39">
<path d="M 55.875 672.375 L 55.875 470.625 " style="fill: none; stroke: #ffffff; stroke-width: 0.8; stroke-linejoin: miter; stroke-linecap: square"/>
</g>
<g id="patch_40">
<path d="M 784.875 672.375 L 784.875 470.625 " style="fill: none; stroke: #ffffff; stroke-width: 0.8; stroke-linejoin: miter; stroke-linecap: square"/>
</g>
<g id="patch_41">
<path d="M 55.875 672.375 L 663.375 672.375 " style="fill: none; stroke: #ffffff; stroke-width: 0.8; stroke-linejoin: miter; stroke-linecap: square"/>
</g>
<g id="patch_42">
<path d="M 55.875 470.625 L 663.375 470.625 " style="fill: none; stroke: #ffffff; stroke-width: 0.8; stroke-linejoin: miter; stroke-linecap: square"/>
</g>
</g>
<g id="axes_8">
<g id="matplotlib.axis_10">
<g id="xtick_19">
<g id="line2d_86">
<g>
<use href="#m2b34228c76" x="55.875" y="672.375" style="fill: #ffffff; stroke: #ffffff; stroke-width: 0.8"/>
</g>
</g>
<g id="text_51">
<text style="font-size: 9.85px; font-family: 'DejaVu Sans', 'Liberation Sans', sans-serif; fill: #ffffff" transform="translate(50.653 708.975) rotate(-60)">08:00</text>
</g>
</g>
<g id="xtick_20">
<g id="line2d_87">
<g>
<use href="#m2b34228c76" x="131.625" y="672.375" style="fill: #ffffff; stroke: #ffffff; stroke-width: 0.8"/>
</g>
</g>
<g id="text_52">
<text style="font-size: 9.85px; font-family: 'DejaVu Sans', 'Liberation Sans', sans-serif; fill: #ffffff" transform="translate(126.356 709.138) rotate(-60)">09:00</text>
</g>
</g>
<g id="xtick_21">
<g id="line2d_88">
<g>
<use href="#m2b34228c76" x="207.375" y="672.375" style="fill: #ffffff; stroke: #ffffff; stroke-width: 0.8"/>
</g>
</g>
<g id="text_53">
<text style="font-size: 9.85px; font-family: 'DejaVu Sans', 'Liberation Sans', sans-serif; fill: #ffffff" transform="translate(202.130 709.056) rotate(-60)">10:00</text>
</g>
</g>
<g id="xtick_22">
<g id="line2d_89">
<g>
<use href="#m2b34228c76" x="283.875" y="672.375" style="fill: #ffffff; stroke: #ffffff; stroke-width: 0.8"/>
</g>
</g>
<g id="text_54">
<text style="font-size: 9.85px; font-family: 'DejaVu Sans', 'Liberation Sans', sans-serif; fill: #ffffff" transform="translate(278.630 709.056) rotate(-60)">11:00</text>
</g>
</g>
<g id="xtick_23">
<g id="line2d_90">
<g>
<use href="#m2b34228c76" x="359.625" y="672.375" style="fill: #ffffff; stroke: #ffffff; stroke-width: 0.8"/>
</g>
</g>
<g id="text_55">
<text style="font-size: 9.85px; font-family: 'DejaVu Sans', 'Liberation Sans', sans-serif; fill: #ffffff" transform="translate(354.356 709.138) rotate(-60)">12:00</text>
</g>
</g>
<g id="xtick_24">
<g id="line2d_91">
<g>
<use href="#m2b34228c76" x="435.375" y="672.375" style="fill: #ffffff; stroke: #ffffff; stroke-width: 0.8"/>
</g>
</g>
<g id="text_56">
<text style="font-size: 9.85px; font-family: 'DejaVu Sans', 'Liberation Sans', sans-serif; fill: #ffffff" transform="translate(430.130 709.056) rotate(-60)">13:00</text>
</g>
</g>
<g id="xtick_25">
<g id="line2d_92">
<g>
<use href="#m2b34228c76" x="511.875" y="672.375" style="fill: #ffffff; stroke: #ffffff; stroke-width: 0.8"/>
</g>
</g>
<g id="text_57">
<text style="font-size: 9.85px; font-family: 'DejaVu Sans', 'Liberation Sans', sans-serif; fill: #ffffff" transform="translate(506.653 708.975) rotate(-60)">14:00</text>
</g>
</g>
<g id="xtick_26">
<g id="line2d_93">
<g>
<use href="#m2b34228c76" x="587.625" y="672.375" style="fill: #ffffff; stroke: #ffffff; stroke-width: 0.8"/>
</g>
</g>
<g id="text_58">
<text style="font-size: 9.85px; font-family: 'DejaVu Sans', 'Liberation Sans', sans-serif; fill: #ffffff" transform="translate(582.380 709.056) rotate(-60)">15:00</text>
</g>
</g>
<g id="xtick_27">
<g id="line2d_94">
<g>
<use href="#m2b34228c76" x="663.375" y="672.375" style="fill: #ffffff; stroke: #ffffff; stroke-width: 0.8"/>
</g>
</g>
<g id="text_59">
<text style="font-size: 9.85px; font-family: 'DejaVu Sans', 'Liberation Sans', sans-serif; fill: #ffffff" transform="translate(658.130 709.056) rotate(-60)">16:00</text>
</g>
</g>
</g>
<g id="matplotlib.axis_11">
<g id="ytick_44">
<g id="line2d_95">
<g>
<use href="#mc63ed60ff4" x="55.875" y="672.375" style="fill: #ffffff; stroke: #ffffff; stroke-width: 0.8"/>
</g>
</g>
<g id="text_60">
<text style="font-size: 9.85px; font-family: 'DejaVu Sans', 'Liberation Sans', sans-serif; text-anchor: end; fill: #ffffff" x="48.625" y="675.562">0</text>
</g>
</g>
<g id="ytick_45">
<g id="line2d_96">
<g>
<use href="#mc63ed60ff4" x="55.875" y="643.875" style="fill: #ffffff; stroke: #ffffff; stroke-width: 0.8"/>
</g>
</g>
<g id="text_61">
<text style="font-size: 9.85px; font-family: 'DejaVu Sans', 'Liberation Sans', sans-serif; text-anchor: end; fill: #ffffff" x="48.625" y="647.062">50</text>
</g>
</g>
<g id="ytick_46">
<g id="line2d_97">
<g>
<use href="#mc63ed60ff4" x="55.875" y="616.125" style="fill: #ffffff; stroke: #ffffff; stroke-width: 0.8"/>
</g>
</g>
<g id="text_62">
<text style="font-size: 9.85px; font-family: 'DejaVu Sans', 'Liberation Sans', sans-serif; text-anchor: end; fill: #ffffff" x="48.625" y="619.312">100</text>
</g>
</g>
<g id="ytick_47">
<g id="line2d_98">
<g>
<use href="#mc63ed60ff4" x="55.875" y="588.375" style="fill: #ffffff; stroke: #ffffff; stroke-width: 0.8"/>
</g>
</g>
<g id="text_63">
<text style="font-size: 9.85px; font-family: 'DejaVu Sans', 'Liberation Sans', sans-serif; text-anchor: end; fill: #ffffff" x="48.625" y="591.562">150</text>
</g>
</g>
<g id="ytick_48">
<g id="line2d_99">
<g>
<use href="#mc63ed60ff4" x="55.875" y="560.625" style="fill: #ffffff; stroke: #ffffff; stroke-width: 0.8"/>
</g>
</g>
<g id="text_64">
<text style="font-size: 9.85px; font-family: 'DejaVu Sans', 'Liberation Sans', sans-serif; text-anchor: end; fill: #ffffff" x="48.625" y="563.812">200</text>
</g>
</g>
<g id="ytick_49">
<g id="line2d_100">
<g>
<use href="#mc63ed60ff4" x="55.875" y="532.125" style="fill: #ffffff; stroke: #ffffff; stroke-width: 0.8"/>
</g>
</g>
<g id="text_65">
<text style="font-size: 9.85px; font-family: 'DejaVu Sans', 'Liberation Sans', sans-serif; text-anchor: end; fill: #ffffff" x="48.625" y="535.312">250</text>
</g>
</g>
<g id="ytick_50">
<g id="line2d_101">
<g>
<use href="#mc63ed60ff4" x="55.875" y="504.375" style="fill: #ffffff; stroke: #ffffff; stroke-width: 0.8"/>
</g>
</g>
<g id="text_66">
<text style="font-size: 9.85px; font-family: 'DejaVu Sans', 'Liberation Sans', sans-serif; text-anchor: end; fill: #ffffff" x="48.625" y="507.562">300</text>
</g>
</g>
<g id="ytick_51">
<g id="line2d_102">
<g>
<use href="#mc63ed60ff4" x="55.875" y="476.625" style="fill: #ffffff; stroke: #ffffff; stroke-width: 0.8"/>
</g>
</g>
<g id="text_67">
<text style="font-size: 9.85px; font-family: 'DejaVu Sans', 'Liberation Sans', sans-serif; text-anchor: end; fill: #ffffff" x="48.625" y="479.812">350</text>
</g>
</g>
<g id="text_68">
<text style="font-size: 14px; font-family: 'DejaVu Sans', 'Liberation Sans', sans-serif; text-anchor: middle; fill: #4daf4a" x="20.906" y="572.175" transform="rotate(-90 20.906 572.175)">WIND DIR (deg)</text>
</g>
</g>
<g id="line2d_103">
<path d="M 55.425 595.125 L 131.381 596.25 L 207.337 616.125 L 283.293 618.375 L 359.25 610.125 L 435.206 602.625 L 511.162 592.125 L 587.118 574.5 L 663.075 562.875 " clip-path="url(#p78ecbc0918)" style="fill: none; stroke: #4daf4a; stroke-width: 2; stroke-linecap: square"/>
</g>
<g id="line2d_104">
<path d="M 55.5 672.375 L 55.5 470.625 " clip-path="url(#p78ecbc0918)" style="fill: none; stroke: #808080; stroke-opacity: 0.1; stroke-width: 1.5; stroke-linecap: square"/>
</g>
<g id="line2d_105">
<path d="M 131.25 672.375 L 131.25 470.625 " clip-path="url(#p78ecbc0918)" style="fill: none; stroke: #808080; stroke-opacity: 0.1; stroke-width: 1.5; stroke-linecap: square"/>
</g>
<g id="line2d_106">
<path d="M 207 672.375 L 207 470.625 " clip-path="url(#p78ecbc0918)" style="fill: none; stroke: #808080; stroke-opacity: 0.1; stroke-width: 1.5; stroke-linecap: square"/>
</g>
<g id="line2d_107">
<path d="M 283.5 672.375 L 283.5 470.625 " clip-path="url(#p78ecbc0918)" style="fill: none; stroke: #808080; stroke-opacity: 0.1; stroke-width: 1.5; stroke-linecap: square"/>
</g>
<g id="line2d_108">
<path d="M 359.25 672.375 L 359.25 470.625 " clip-path="url(#p78ecbc0918)" style="fill: none; stroke: #808080; stroke-opacity: 0.1; stroke-width: 1.5; stroke-linecap: square"/>
</g>
<g id="line2d_109">
<path d="M 435 672.375 L 435 470.625 " clip-path="url(#p78ecbc0918)" style="fill: none; stroke: #808080; stroke-opacity: 0.1; stroke-width: 1.5; stroke-linecap: square"/>
</g>
<g id="line2d_110">
<path d="M 511.5 672.375 L 511.5 470.625 " clip-path="url(#p78ecbc0918)" style="fill: none; stroke: #808080; stroke-opacity: 0.1; stroke-width: 1.5; stroke-linecap: square"/>
</g>
<g id="line2d_111">
<path d="M 587.25 672.375 L 587.25 470.625 " clip-path="url(#p78ecbc0918)" style="fill: none; stroke: #808080; stroke-opacity: 0.1; stroke-width: 1.5; stroke-linecap: square"/>
</g>
<g id="line2d_112">
<path d="M 663 672.375 L 663 470.625 " clip-path="url(#p78ecbc0918)" style="fill: none; stroke: #808080; stroke-opacity: 0.1; stroke-width: 1.5; stroke-linecap: square"/>
</g>
<g id="patch_43">
<path d="M 55.875 672.375 L 55.875 470.625 " style="fill: none; stroke: #ffffff; stroke-width: 0.8; stroke-linejoin: miter; stroke-linecap: square"/>
</g>
<g id="patch_44">
<path d="M 663.375 672.375 L 663.375 470.625 " style="fill: none; stroke: #ffffff; stroke-width: 0.8; stroke-linejoin: miter; stroke-linecap: square"/>
</g>
<g id="patch_45">
<path d="M 55.875 672.375 L 663.375 672.375 " style="fill: none; stroke: #ffffff; stroke-width: 0.8; stroke-linejoin: miter; stroke-linecap: square"/>
</g>
<g id="patch_46">
<path d="M 55.875 470.625 L 663.375 470.625 " style="fill: none; stroke: #ffffff; stroke-width: 0.8; stroke-linejoin: miter; stroke-linecap: square"/>
</g>
</g>
<g id="axes_9">
<g id="matplotlib.axis_12">
<g id="ytick_52">
<g id="line2d_113">
<g>
<use href="#m5f12abc938" x="663.375" y="663.375" style="fill: #ffffff; stroke: #ffffff; stroke-width: 0.8"/>
</g>
</g>
<g id="text_69">
<text style="font-size: 9.85px; font-family: 'DejaVu Sans', 'Liberation Sans', sans-serif; text-anchor: start; fill: #ffffff" x="670.625" y="666.562">4.5</text>
</g>
</g>
<g id="ytick_53">
<g id="line2d_114">
<g>
<use href="#m5f12abc938" x="663.375" y="639.375" style="fill: #ffffff; stroke: #ffffff; stroke-width: 0.8"/>
</g>
</g>
<g id="text_70">
<text style="font-size: 9.85px; font-family: 'DejaVu Sans', 'Liberation Sans', sans-serif; text-anchor: start; fill: #ffffff" x="670.625" y="642.562">5.0</text>
</g>
</g>
<g id="ytick_54">
<g id="line2d_115">
<g>
<use href="#m5f12abc938" x="663.375" y="615.375" style="fill: #ffffff; stroke: #ffffff; stroke-width: 0.8"/>
</g>
</g>
<g id="text_71">
<text style="font-size: 9.85px; font-family: 'DejaVu Sans', 'Liberation Sans', sans-serif; text-anchor: start; fill: #ffffff" x="670.625" y="618.562">5.5</text>
</g>
</g>
<g id="ytick_55">
<g id="line2d_116">
<g>
<use href="#m5f12abc938" x="663.375" y="590.625" style="fill: #ffffff; stroke: #ffffff; stroke-width: 0.8"/>
</g>
</g>
<g id="text_72">
<text style="font-size: 9.85px; font-family: 'DejaVu Sans', 'Liberation Sans', sans-serif; text-anchor: start; fill: #ffffff" x="670.625" y="593.812">6.0</text>
</g>
</g>
<g id="ytick_56">
<g id="line2d_117">
<g>
<use href="#m5f12abc938" x="663.375" y="566.625" style="fill: #ffffff; stroke: #ffffff; stroke-width: 0.8"/>
</g>
</g>
<g id="text_73">
<text style="font-size: 9.85px; font-family: 'DejaVu Sans', 'Liberation Sans', sans-serif; text-anchor: start; fill: #ffffff" x="670.625" y="569.812">6.5</text>
</g>
</g>
<g id="ytick_57">
<g id="line2d_118">
<g>
<use href="#m5f12abc938" x="663.375" y="542.625" style="fill: #ffffff; stroke: #ffffff; stroke-width: 0.8"/>
</g>
</g>
<g id="text_74">
<text style="font-size: 9.85px; font-family: 'DejaVu Sans', 'Liberation Sans', sans-serif; text-anchor: start; fill: #ffffff" x="670.625" y="545.812">7.0</text>
</g>
</g>
<g id="ytick_58">
<g id="line2d_119">
<g>
<use href="#m5f12abc938" x="663.375" y="518.625" style="fill: #ffffff; stroke: #ffffff; stroke-width: 0.8"/>
</g>
</g>
<g id="text_75">
<text style="font-size: 9.85px; font-family: 'DejaVu Sans', 'Liberation Sans', sans-serif; text-anchor: start; fill: #ffffff" x="670.625" y="521.812">7.5</text>
</g>
</g>
<g id="ytick_59">
<g id="line2d_120">
<g>
<use href="#m5f12abc938" x="663.375" y="493.875" style="fill: #ffffff; stroke: #ffffff; stroke-width: 0.8"/>
</g>
</g>
<g id="text_76">
<text style="font-size: 9.85px; font-family: 'DejaVu Sans', 'Liberation Sans', sans-serif; text-anchor: start; fill: #ffffff" x="670.625" y="497.062">8.0</text>
</g>
</g>
<g id="text_77">
<text style="font-size: 14px; font-family: 'DejaVu Sans', 'Liberation Sans', sans-serif; text-anchor: middle; fill: #e41a1c" x="701.137" y="572.175" transform="rotate(-90 701.137 572.175)">WIND SPEED (m/s)</text>
</g>
</g>
<g id="line2d_121">
<path d="M 55.425 654 L 131.381 663 L 207.337 621 L 283.293 576.75 L 359.25 532.5 L 435.206 529.5 L 511.162 512.25 L 587.118 485.625 L 663.075 479.625 " clip-path="url(#pfb2f7421c6)" style="fill: none; stroke: #e41a1c; stroke-width: 2; stroke-linecap: square"/>
</g>
<g id="patch_47">
<path d="M 55.875 672.375 L 55.875 470.625 " style="fill: none; stroke: #ffffff; stroke-width: 0.8; stroke-linejoin: miter; stroke-linecap: square"/>
</g>
<g id="patch_48">
<path d="M 663.375 672.375 L 663.375 470.625 " style="fill: none; stroke: #ffffff; stroke-width: 0.8; stroke-linejoin: miter; stroke-linecap: square"/>
</g>
<g id="patch_49">
<path d="M 55.875 672.375 L 663.375 672.375 " style="fill: none; stroke: #ffffff; stroke-width: 0.8; stroke-linejoin: miter; stroke-linecap: square"/>
</g>
<g id="patch_50">
<path d="M 55.875 470.625 L 663.375 470.625 " style="fill: none; stroke: #ffffff; stroke-width: 0.8; stroke-linejoin: miter; stroke-linecap: square"/>
</g>
</g>
<g id="text_78">
<text style="font-size: 16.023px; font-family: 'DejaVu Sans', 'Liberation Sans', sans-serif; text-anchor: middle; fill: #ffffff" x="432" y="26.475">Advanced Pro2 Lite Off Road Series by Trak Racer - 2026 Season 1 2026S1 Week7 @ Wild West Motorsports Park</text>
</g>
<g id="patch_51">
<path d="M 67.291 43.95 L 141.853 43.95 Q 143.519 43.95 143.519 45.616 L 143.519 67.679 Q 143.519 69.345 141.853 69.345 L 67.291 69.345 Q 65.625 69.345 65.625 67.679 L 65.625 45.616 Q 65.625 43.95 67.291 43.95 z " style="opacity: 0.8; stroke: #cccccc; stroke-linejoin: miter"/>
</g>
<g id="patch_52">
<path d="M 67.291 260.7 L 161.165 260.7 Q 162.831 260.7 162.831 262.366 L 162.831 284.429 Q 162.831 286.095 161.165 286.095 L 67.291 286.095 Q 65.625 286.095 65.625 284.429 L 65.625 262.366 Q 65.625 260.7 67.291 260.7 z " style="opacity: 0.8; stroke: #cccccc; stroke-linejoin: miter"/>
</g>
<g id="patch_53">
<path d="M 67.291 477.45 L 169.884 477.45 Q 171.550 477.45 171.550 479.116 L 171.550 501.179 Q 171.550 502.845 169.884 502.845 L 67.291 502.845 Q 65.625 502.845 65.625 501.179 L 65.625 479.116 Q 65.625 477.45 67.291 477.45 z " style="opacity: 0.8; stroke: #cccccc; stroke-linejoin: miter"/>
</g>
<g id="line2d_122">
<path d="M 69.294 49.837 L 85.954 49.837 " style="fill: none; stroke: #ff7f00; stroke-width: 2; stroke-linecap: square"/>
</g>
<g id="line2d_123">
<path d="M 69.294 61.912 L 85.954 61.912 " style="fill: none; stroke-dasharray: 7.4,3.2; stroke-dashoffset: 0; stroke: #00ced1; stroke-width: 2"/>
</g>
<g id="line2d_124">
<path d="M 69.294 266.587 L 85.954 266.587 " style="fill: none; stroke: #984ea3; stroke-width: 2; stroke-linecap: square"/>
</g>
<g id="line2d_125">
<path d="M 69.294 278.662 L 85.954 278.662 " style="fill: none; stroke: #377eb8; stroke-width: 2; stroke-linecap: square"/>
</g>
<g id="patch_54">
<path d="M 68.957 480.422 L 85.617 480.422 L 85.617 486.253 L 68.957 486.253 z " style="fill: #ffffcc"/>
</g>
<g id="patch_55">
<path d="M 68.957 492.497 L 85.617 492.497 L 85.617 498.328 L 68.957 498.328 z " style="fill: #222222"/>
</g>
<g id="text_79">
<text style="font-size: 8.33px; font-family: 'DejaVu Sans', 'Liberation Sans', sans-serif; text-anchor: start; fill: #ffffff" x="92.618" y="52.5">AIR TEMP</text>
</g>
<g id="text_80">
<text style="font-size: 8.33px; font-family: 'DejaVu Sans', 'Liberation Sans', sans-serif; text-anchor: start; fill: #ffffff" x="92.618" y="64.5">DEW POINT</text>
</g>
<g id="text_81">
<text style="font-size: 8.33px; font-family: 'DejaVu Sans', 'Liberation Sans', sans-serif; text-anchor: start; fill: #ffffff" x="92.618" y="269.25">CLOUD COVER</text>
</g>
<g id="text_82">
<text style="font-size: 8.33px; font-family: 'DejaVu Sans', 'Liberation Sans', sans-serif; text-anchor: start; fill: #ffffff" x="92.618" y="281.25">PRECIP CHANCE</text>
</g>
<g id="text_83">
<text style="font-size: 8.33px; font-family: 'DejaVu Sans', 'Liberation Sans', sans-serif; text-anchor: start; fill: #ffffff" x="92.618" y="486">IS SUN UP</text>
</g>
<g id="text_84">
<text style="font-size: 8.33px; font-family: 'DejaVu Sans', 'Liberation Sans', sans-serif; text-anchor: start; fill: #ffffff" x="92.618" y="498">AFFECTS SESSION</text>
</g>
</g>
<defs>
<clipPath id="pbbd23e26a2">
<rect x="55.875" y="37.875" width="607.5" height="201.75"/>
</clipPath>
<clipPath id="p2cc033f85c">
<rect x="55.875" y="37.875" width="607.5" height="201.75"/>
</clipPath>
<clipPath id="paed9b21884">
<rect x="55.875" y="253.875" width="607.5" height="201.75"/>
</clipPath>
<clipPath id="pfb2f7421c6">
<rect x="55.875" y="470.625" width="607.5" height="201.75"/>
</clipPath>
<clipPath id="p78ecbc0918">
<rect x="55.875" y="470.625" width="607.5" height="201.75"/>
</clipPath>
</defs>
</svg> 
</body>
</html>
